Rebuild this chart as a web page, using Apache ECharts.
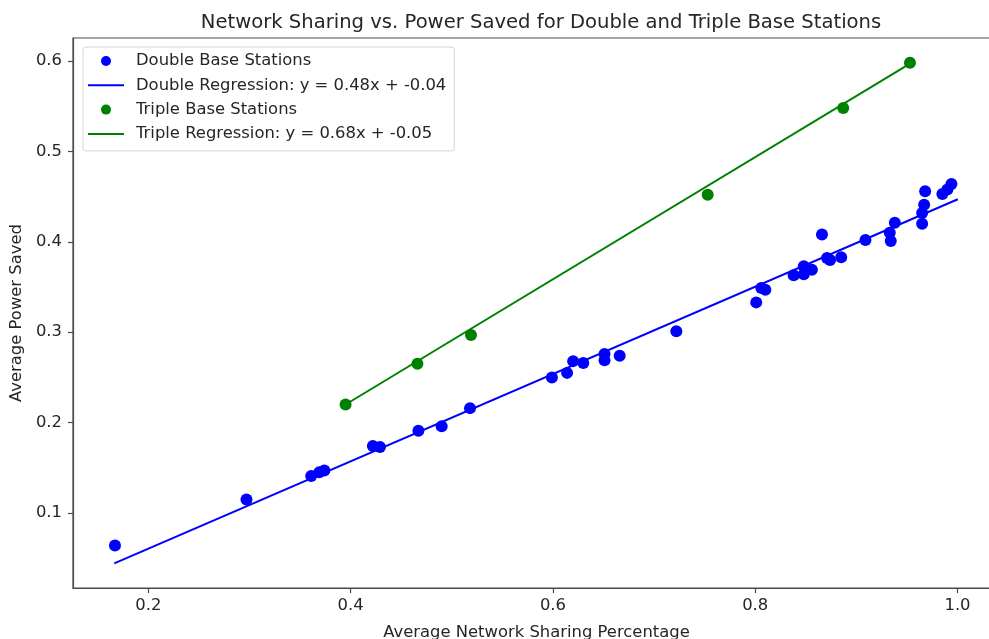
<!DOCTYPE html>
<html>
<head>
<meta charset="utf-8">
<script src="https://cdn.jsdelivr.net/npm/echarts@6/dist/echarts.min.js"></script>
<style>
  html, body { margin: 0; padding: 0; background: #fff; overflow: hidden; }
  #chart { width: 989px; height: 639px; }
</style>
</head>
<body>
<div id="chart"></div>
<script>
// Double base stations: average network sharing vs. average power saved
const doubleSharing = [
  0.167, 0.297, 0.361, 0.369, 0.374, 0.422, 0.429, 0.467, 0.490, 0.518,
  0.599, 0.614, 0.620, 0.630, 0.651, 0.651, 0.666, 0.722, 0.801, 0.806,
  0.810, 0.838, 0.848, 0.848, 0.856, 0.866, 0.871, 0.874, 0.885, 0.909,
  0.933, 0.938, 0.934, 0.965, 0.965, 0.967, 0.968, 0.985, 0.990, 0.994
];
const doublePower = [
  0.064, 0.115, 0.141, 0.145, 0.147, 0.174, 0.173, 0.191, 0.196, 0.216,
  0.250, 0.255, 0.268, 0.266, 0.276, 0.269, 0.274, 0.301, 0.333, 0.349,
  0.347, 0.363, 0.373, 0.364, 0.369, 0.408, 0.382, 0.380, 0.383, 0.402,
  0.410, 0.421, 0.401, 0.420, 0.432, 0.441, 0.456, 0.453, 0.458, 0.464
];

// Triple base stations
const tripleSharing = [0.395, 0.466, 0.519, 0.753, 0.887, 0.953];
const triplePower   = [0.220, 0.265, 0.297, 0.452, 0.548, 0.598];

// Linear fits and the x span each fitted line covers
const doubleSlope = 0.483, doubleIntercept = -0.036;
const doubleFitRange = [0.1663, 1.0003];
const tripleSlope = 0.676, tripleIntercept = -0.047;
const tripleFitRange = [0.395, 0.953];

// Tick values
const xTicks = [0.2, 0.4, 0.6, 0.8, 1.0];
const yTicks = [0.1, 0.2, 0.3, 0.4, 0.5, 0.6];

const pairs = (xs, ys) => xs.map((x, i) => [x, ys[i]]);
const fitLine = (m, b, range) => range.map(x => [x, m * x + b]);
const fitLabel = (name, m, b) => `${name} Regression: y = ${m.toFixed(2)}x + ${b.toFixed(2)}`;

const FONT = 'DejaVu Sans';
const TEXT = '#262626';
const AXIS = '#4a4a4a';
const FS = 16.4;

const chart = echarts.init(document.getElementById('chart'), null, { renderer: 'canvas' });

const doubleLabel = fitLabel('Double', doubleSlope, doubleIntercept);
const tripleLabel = fitLabel('Triple', tripleSlope, tripleIntercept);

const tickLabel = margin => ({ formatter: v => v.toFixed(1), fontFamily: FONT, fontSize: FS, color: TEXT, margin });

chart.setOption({
  animation: false,
  backgroundColor: '#fff',
  title: {
    text: 'Network Sharing vs. Power Saved for Double and Triple Base Stations',
    left: 536, top: 8, textAlign: 'center',
    textStyle: { fontFamily: FONT, fontSize: 19.6, fontWeight: 'normal', color: TEXT }
  },
  // plot frame; its right edge lies just past the canvas
  grid: {
    left: 73, top: 38, width: 927, height: 550,
    outerBoundsMode: 'none', containLabel: false,
    show: true, borderColor: AXIS, borderWidth: 1.2, backgroundColor: 'transparent'
  },
  legend: {
    orient: 'vertical',
    left: 83, top: 47,
    padding: [4.5, 8, 7.5, 4],
    itemWidth: 36, itemHeight: 10, itemGap: 5.3,
    backgroundColor: 'rgba(255,255,255,0.85)',
    borderColor: '#d4d4d4', borderWidth: 1, borderRadius: 3,
    textStyle: { fontFamily: FONT, fontSize: FS, color: TEXT, lineHeight: 19, padding: [0, 0, 0, 7] },
    data: [
      { name: 'Double Base Stations', icon: 'circle' },
      { name: doubleLabel, itemStyle: { opacity: 0 } },
      { name: 'Triple Base Stations', icon: 'circle' },
      { name: tripleLabel, itemStyle: { opacity: 0 } }
    ]
  },
  xAxis: {
    type: 'value',
    min: 0.1255, max: 1.042,
    name: 'Average Network Sharing Percentage',
    nameLocation: 'middle', nameGap: 37,
    nameTextStyle: { fontFamily: FONT, fontSize: FS, color: TEXT },
    splitLine: { show: false },
    axisLine: { show: true, onZero: false, lineStyle: { color: AXIS, width: 1.2 } },
    axisTick: { show: true, length: 5, customValues: xTicks, lineStyle: { color: AXIS, width: 1.2 } },
    axisLabel: Object.assign({ customValues: xTicks }, tickLabel(10))
  },
  yAxis: {
    type: 'value',
    min: 0.017, max: 0.6255,
    name: 'Average Power Saved',
    nameLocation: 'middle', nameGap: 44,
    nameTextStyle: { fontFamily: FONT, fontSize: FS, color: TEXT },
    splitLine: { show: false },
    axisLine: { show: true, onZero: false, lineStyle: { color: AXIS, width: 1.2 } },
    axisTick: { show: true, length: 5, customValues: yTicks, lineStyle: { color: AXIS, width: 1.2 } },
    axisLabel: Object.assign({ customValues: yTicks }, tickLabel(11))
  },
  series: [
    {
      name: 'Double Base Stations', type: 'scatter',
      data: pairs(doubleSharing, doublePower),
      symbol: 'circle', symbolSize: 12,
      itemStyle: { color: '#0000ff', opacity: 1 }, z: 2
    },
    {
      name: doubleLabel, type: 'line',
      data: fitLine(doubleSlope, doubleIntercept, doubleFitRange),
      symbol: 'none', lineStyle: { color: '#0000ff', width: 2 },
      itemStyle: { color: '#0000ff' }, z: 3
    },
    {
      name: 'Triple Base Stations', type: 'scatter',
      data: pairs(tripleSharing, triplePower),
      symbol: 'circle', symbolSize: 12,
      itemStyle: { color: '#008000', opacity: 1 }, z: 2
    },
    {
      name: tripleLabel, type: 'line',
      data: fitLine(tripleSlope, tripleIntercept, tripleFitRange),
      symbol: 'none', lineStyle: { color: '#008000', width: 2 },
      itemStyle: { color: '#008000' }, z: 3
    }
  ]
});
</script>
</body>
</html>
